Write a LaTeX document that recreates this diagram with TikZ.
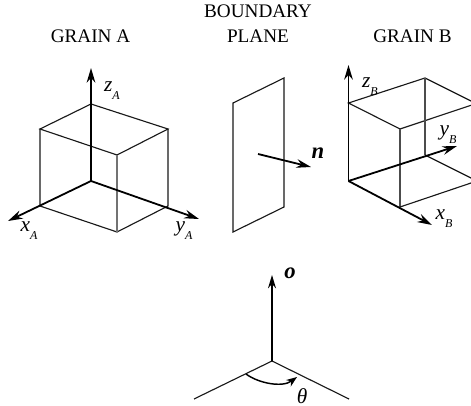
\documentclass[tikz,border=0pt]{standalone}
\usepackage{fontspec}
\setmainfont{Liberation Serif}
\usetikzlibrary{arrows.meta}
\newcommand{\axname}[2]{\textit{#1}\raisebox{-0.8ex}{\fontsize{9}{9}\selectfont\textit{#2}}}
\begin{document}
\begin{tikzpicture}[
  x=0.75pt, y=-0.75pt,
  edge/.style={line width=0.85pt, black!90},
  axis/.style={line width=1.35pt, -{Stealth[length=11pt, width=6.5pt]}},
  thinaxis/.style={line width=1pt, -{Stealth[length=10pt, width=6pt]}},
  heading/.style={inner sep=0pt, font=\fontsize{14.4}{16}\selectfont},
  axlabel/.style={inner sep=0pt, font=\fontsize{16}{16}\selectfont},
]
  \useasboundingbox (0,0) rectangle (471,406);

  % Headings
  \node[heading] (graina) at (90.5,36.5) {GRAIN A};
  \node[heading] (boundary) at (258,11.5) {BOUNDARY};
  \node[heading] (plane) at (258,36.5) {PLANE};
  \node[heading] (grainb) at (412.5,36.5) {GRAIN B};

  % Grain A
  \coordinate (ao) at (91,181);
  \coordinate (az) at (91,68);
  \coordinate (ax) at (8,221);
  \coordinate (ay) at (199,219);
  \coordinate (atb) at (91,104);
  \coordinate (atl) at (40,129);
  \coordinate (atr) at (168,129);
  \coordinate (atf) at (117,155);
  \coordinate (abl) at (40,206);
  \coordinate (abr) at (168,206);
  \coordinate (abf) at (117,232);
  \draw[edge] (atb) -- (atl) -- (atf) -- (atr) -- cycle;
  \draw[edge] (atl) -- (abl) -- (abf) -- (abr) -- (atr);
  \draw[edge, black!55] (atf) -- (abf);
  \draw[axis] (ao) -- (az);
  \draw[axis] (ao) -- (ax);
  \draw[axis] (ao) -- (ay);
  \node[axlabel] (zalabel) at (112,91) {\axname{z}{A}};
  \node[axlabel] (xalabel) at (29,231) {\axname{x}{A}};
  \node[axlabel] (yalabel) at (184,231) {\axname{y}{A}};

  % Boundary plane
  \coordinate (pa) at (233,103);
  \coordinate (pb) at (284,78);
  \coordinate (pc) at (284,207);
  \coordinate (pd) at (233,232);
  \coordinate (nstart) at (258,154);
  \coordinate (nend) at (311,167);
  \draw[edge] (pa) -- (pb) -- (pc) -- (pd) -- cycle;
  \draw[axis] (nstart) -- (nend);
  \node[axlabel, font=\fontsize{17}{17}\selectfont\bfseries\itshape] (nlabel) at (318,153) {n};

  % Grain B
  \coordinate (bo) at (348.5,181);
  \coordinate (bz) at (348.5,65);
  \coordinate (bx) at (432,225);
  \coordinate (by) at (457,146);
  \coordinate (btl) at (348.5,103);
  \coordinate (btb) at (425,78);
  \coordinate (btf) at (400,129);
  \coordinate (bbf) at (400,207);
  \coordinate (bbb) at (425,155);
  \coordinate (btra) at (471,101);
  \coordinate (btrb) at (471,105.3);
  \coordinate (bbra) at (471,178);
  \coordinate (bbrb) at (471,183);
  \draw[edge] (btra) -- (btb) -- (btl) -- (btf) -- (btrb);
  \draw[edge, black!70] (btb) -- (bbb) (btf) -- (bbf);
  \draw[edge] (bbrb) -- (bbf);
  \draw[edge] (bbb) -- (bbra);
  \draw[axis] (bo) -- (bz);
  \draw[axis] (bo) -- (bx);
  \draw[axis] (bo) -- (by);
  \node[axlabel] (zblabel) at (370,87) {\axname{z}{B}};
  \node[axlabel] (yblabel) at (448,135) {\axname{y}{B}};
  \node[axlabel] (xblabel) at (444,219) {\axname{x}{B}};

  % Tilt and twist
  \coordinate (oo) at (272,361);
  \coordinate (oz) at (272,275);
  \coordinate (ol) at (194,399);
  \coordinate (or) at (349,399);
  \coordinate (arcl) at (246,374);
  \coordinate (arcr) at (297,377);
  \draw[edge] (ol) -- (oo) -- (or);
  \draw[thinaxis] (oo) -- (oz);
  \draw[line width=1.1pt, -{Stealth[length=8pt, width=6pt]}] (arcl) .. controls (258,383) and (282,388) .. (arcr);
  \node[axlabel, font=\fontsize{17}{17}\selectfont\bfseries\itshape] (olabel) at (290,273) {o};
  \node[axlabel, font=\fontsize{16}{16}\selectfont\itshape] (thetalabel) at (302,396) {θ};
\end{tikzpicture}
\end{document}
